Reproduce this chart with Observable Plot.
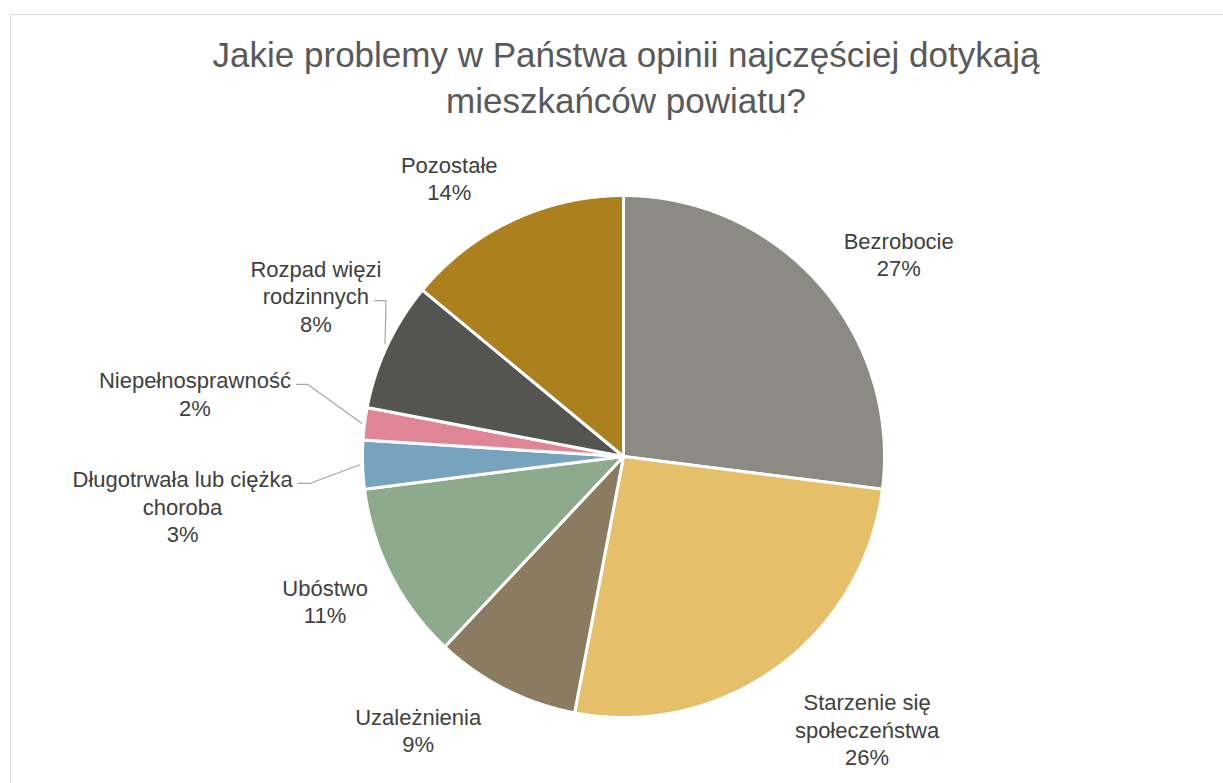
<!DOCTYPE html>
<html><head><meta charset="utf-8">
<script src="https://cdn.jsdelivr.net/npm/d3@7"></script>
<script src="https://cdn.jsdelivr.net/npm/@observablehq/plot@0.6"></script>
<style>
html,body{margin:0;padding:0;background:#fff;overflow:hidden;width:1223px;height:783px;}
#frame{position:absolute;left:10px;top:14px;width:1400px;height:1000px;border:1px solid #d9d9d9;box-sizing:border-box;}
#chart{position:absolute;left:0;top:0;}
#title{position:absolute;left:0;width:1252px;top:32px;text-align:center;font-family:"Liberation Sans",Arial,sans-serif;font-size:35px;color:#595959;line-height:46px;}
</style></head><body>
<div id="frame"></div>
<div id="chart"></div>
<div id="title">Jakie problemy w Państwa opinii najczęściej dotykają<br>mieszkańców powiatu?</div>
<script>
// ---- data ----
const categories = ["Bezrobocie", "Starzenie się społeczeństwa", "Uzależnienia", "Ubóstwo",
  "Długotrwała lub ciężka choroba", "Niepełnosprawność", "Rozpad więzi rodzinnych", "Pozostałe"];
const values = [27, 26, 9, 11, 3, 2, 8, 14];
const labelLines = [["Bezrobocie"], ["Starzenie się", "społeczeństwa"], ["Uzależnienia"], ["Ubóstwo"],
  ["Długotrwała lub ciężka", "choroba"], ["Niepełnosprawność"], ["Rozpad więzi", "rodzinnych"], ["Pozostałe"]];
const colors = ["#8b8b83", "#e5bf69", "#8a7b61", "#8daa8c", "#76a3bd", "#e08595", "#545450", "#ad801e"];

// ---- label layout (angle nudge from slice middle in degrees, radius as multiple of pie radius) ----
const labelNudge = [5.0, -5.8, 9.9, 1.2, -4.6, 1.2, 2.4, -6.8];
const labelRadius = [1.31, 1.40, 1.31, 1.27, 1.70, 1.66, 1.33, 1.26];
const leaderLine = [null, null, null, null, 0, 0, 1, null]; // which label line the leader attaches to

const W = 1223, H = 783;
const mL = 362, mR = 339, mT = 195, mB = 66;
const pxPerUnit = (W - mL - mR) / 2;
const fontSize = 22, lineH = 27.5;
const fontFamily = "'Liberation Sans', Arial, sans-serif";

const arcs = d3.pie().sort(null).value(d => d)(values);

// slice polygons
const sliceRows = [];
arcs.forEach((a, i) => {
  const name = categories[i];
  sliceRows.push({name, x: 0, y: 0});
  const n = Math.max(2, Math.ceil((a.endAngle - a.startAngle) / (Math.PI / 720)));
  for (let k = 0; k <= n; k++) {
    const t = a.startAngle + (a.endAngle - a.startAngle) * k / n;
    sliceRows.push({name, x: Math.sin(t), y: Math.cos(t)});
  }
  sliceRows.push({name, x: 0, y: 0});
});

// labels
const ctx = document.createElement("canvas").getContext("2d");
ctx.font = `${fontSize}px ${fontFamily}`;
const labelRows = arcs.map((a, i) => {
  const mid = (a.startAngle + a.endAngle) / 2 + labelNudge[i] * Math.PI / 180;
  const R = labelRadius[i];
  const lines = [...labelLines[i], `${values[i]}%`];
  return {name: categories[i], x: R * Math.sin(mid), y: R * Math.cos(mid), text: lines.join("\n"), lines};
});

// leader lines
const leaderRows = [];
labelRows.forEach((l, i) => {
  const k = leaderLine[i];
  if (k === null) return;
  const a = arcs[i];
  const mid = (a.startAngle + a.endAngle) / 2;
  const nLines = l.lines.length;
  const wText = ctx.measureText(l.lines[k]).width;
  const sx = l.x + (wText / 2 + 5) / pxPerUnit;
  const sy = l.y - ((k - (nLines - 1) / 2) * lineH + 5) / pxPerUnit;
  leaderRows.push({name: l.name, x: sx, y: sy});
  leaderRows.push({name: l.name, x: sx + 12 / pxPerUnit, y: sy});
  leaderRows.push({name: l.name, x: 1.01 * Math.sin(mid), y: 1.01 * Math.cos(mid)});
});

const chart = Plot.plot({
  width: W, height: H,
  marginLeft: mL, marginRight: mR, marginTop: mT, marginBottom: mB,
  x: {domain: [-1, 1], axis: null},
  y: {domain: [-1, 1], axis: null},
  color: {domain: categories, range: colors},
  style: {background: "transparent", fontFamily},
  marks: [
    Plot.line(sliceRows, {x: "x", y: "y", z: "name", fill: "name", stroke: "white", strokeWidth: 3, strokeLinejoin: "round", curve: "linear"}),
    Plot.line(leaderRows, {x: "x", y: "y", z: "name", stroke: "#a6a6a6", strokeWidth: 1.2, strokeLinejoin: "miter", strokeLinecap: "butt", curve: "linear"}),
    Plot.text(labelRows, {x: "x", y: "y", text: "text", fontSize, fontFamily, fill: "#404040", lineHeight: lineH / fontSize, textAnchor: "middle", lineAnchor: "middle"})
  ]
});
document.getElementById("chart").appendChild(chart);
</script>
</body></html>
